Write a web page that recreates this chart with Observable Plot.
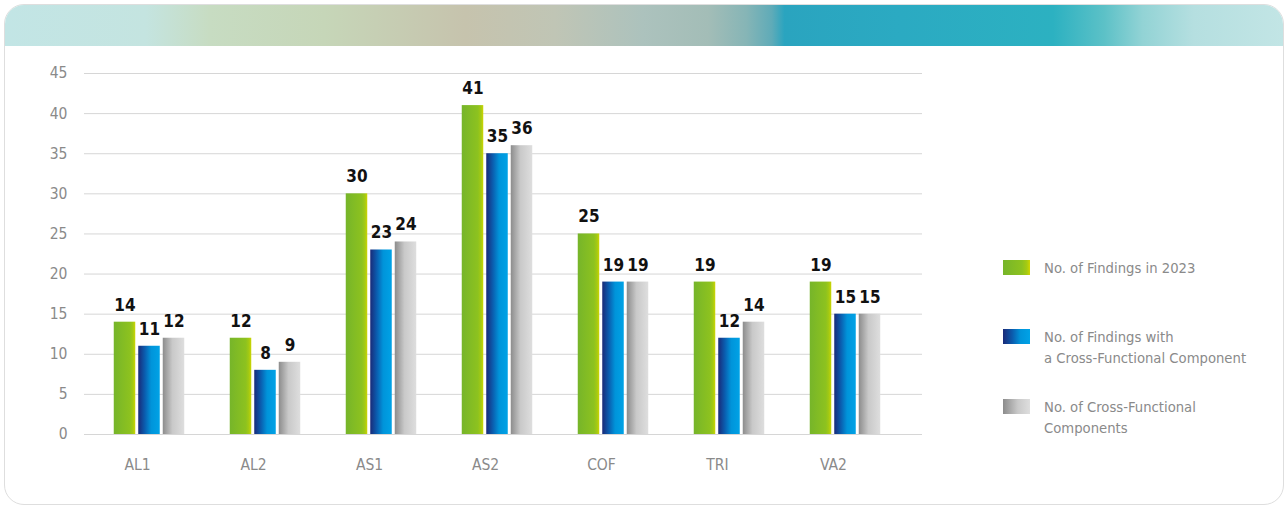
<!DOCTYPE html>
<html>
<head>
<meta charset="utf-8">
<script src="https://cdn.jsdelivr.net/npm/d3@7"></script>
<script src="https://cdn.jsdelivr.net/npm/@observablehq/plot@0.6"></script>
<style>
  html, body { margin: 0; padding: 0; background: #fff; width: 1288px; height: 506px; overflow: hidden; }
  #card { position: absolute; left: 4px; top: 4px; width: 1278px; height: 499px; border: 1px solid #dedede; border-radius: 20px; overflow: hidden; background: #fff; }
  #band { position: absolute; left: 0; top: 0; width: 100%; height: 41px;
    background: linear-gradient(90deg, #c2e5e5 0%, #c4e4e0 11%, #c7dcc2 16%, #c6d6b8 25%, #c6c3ad 36%, #c0c5b5 43%, #acc2bd 50%, #a3bdb7 55%, #86b5b6 58%, #5fabb8 60%, #2aa4bf 61%, #2baac2 70%, #2cb1c1 82%, #5cc1c7 86%, #92d3d5 89%, #b5dfe0 93%, #c2e5e5 100%); }
  #chart { position: absolute; left: 0; top: 0; }
  .leg { position: absolute; font-family: "Liberation Sans Narrow", "DejaVu Sans Condensed", sans-serif; font-size: 14.7px; color: #8a8a8a; line-height: 21px; }
  .sw { position: absolute; width: 27px; height: 15px; }
</style>
</head>
<body>
<div id="card"><div id="band"></div></div>
<div id="chart"></div>
<script>
const categories = ["AL1", "AL2", "AS1", "AS2", "COF", "TRI", "VA2"];
const findings2023 = [14, 12, 30, 41, 25, 19, 19];
const findingsCrossFunctional = [11, 8, 23, 35, 19, 12, 15];
const crossFunctionalComponents = [12, 9, 24, 36, 19, 14, 15];
const seriesNames = ["No. of Findings in 2023", "No. of Findings with\na Cross-Functional Component", "No. of Cross-Functional\nComponents"];
const yTicks = [0, 5, 10, 15, 20, 25, 30, 35, 40, 45];

const seriesValues = [findings2023, findingsCrossFunctional, crossFunctionalComponents];
const gradIds = ["gGreen", "gBlue", "gGray"];
const offsets = [-24.5, 0, 24.5];
const rows = seriesValues.map(vals => categories.map((c, i) => ({category: c, value: vals[i]})));

const FONT = '"Liberation Sans Narrow", "DejaVu Sans Condensed", sans-serif';

const barMarks = rows.flatMap((data, s) => [
  Plot.barY(data, {x: "category", y: "value", fill: `url(#${gradIds[s]})`, dx: offsets[s], insetLeft: 47.25, insetRight: 47.25}),
  Plot.text(data, {x: "category", y: "value", text: d => String(d.value), dx: offsets[s], dy: -17, fill: "#111", fontWeight: "bold", fontSize: 17, fontFamily: FONT})
]);

const plot = Plot.plot({
  width: 1288,
  height: 506,
  marginLeft: 84,
  marginRight: 366,
  marginTop: 73,
  marginBottom: 72,
  style: {fontFamily: FONT, background: "transparent", overflow: "visible"},
  x: {domain: categories, range: [89.25, 904.75], padding: 0},
  y: {domain: [0, 45], ticks: yTicks},
  marks: [
    Plot.gridY(yTicks, {stroke: "#d6d6d6", strokeOpacity: 1, strokeWidth: 1}),
    Plot.axisY(yTicks, {tickSize: 0, tickPadding: 17, fontSize: 15.5, fill: "#8a8a8a", label: null}),
    Plot.axisX({tickSize: 0, tickPadding: 24, fontSize: 15.5, fill: "#8a8a8a", label: null, dx: -12}),
    ...barMarks
  ]
});

const defs = d3.select(plot).insert("defs", ":first-child");
const grads = [
  ["gGreen", [[0, "#76b52a"], [0.75, "#8dc21f"], [0.9, "#a6ca12"], [1, "#cfd600"]]],
  ["gBlue", [[0, "#1a2a78"], [0.3, "#0b5cae"], [0.6, "#0094da"], [1, "#00a2e6"]]],
  ["gGray", [[0, "#8c8c8c"], [0.45, "#c9c9c9"], [1, "#dedede"]]]
];
for (const [id, stops] of grads) {
  const g = defs.append("linearGradient").attr("id", id).attr("x1", 0).attr("x2", 1).attr("y1", 0).attr("y2", 0);
  for (const [o, c] of stops) g.append("stop").attr("offset", o).attr("stop-color", c);
}
document.getElementById("chart").appendChild(plot);

// legend
const legTop = [260, 329, 399];
const legendColors = [
  "linear-gradient(90deg, #76b52a 0%, #8dc21f 70%, #a6ca12 88%, #cfd600 100%)",
  "linear-gradient(90deg, #1a2a78 0%, #0b5cae 35%, #0094da 65%, #00a2e6 100%)",
  "linear-gradient(90deg, #8c8c8c 0%, #c9c9c9 55%, #dedede 100%)"
];
seriesNames.forEach((name, i) => {
  const sw = document.createElement("div");
  sw.className = "sw";
  sw.style.left = "1003px";
  sw.style.top = legTop[i] + "px";
  sw.style.background = legendColors[i];
  document.body.appendChild(sw);
  const t = document.createElement("div");
  t.className = "leg";
  t.style.left = "1044px";
  t.style.top = (legTop[i] - 3) + "px";
  t.innerHTML = name.split("\n").join("<br>");
  document.body.appendChild(t);
});
</script>
</body>
</html>
